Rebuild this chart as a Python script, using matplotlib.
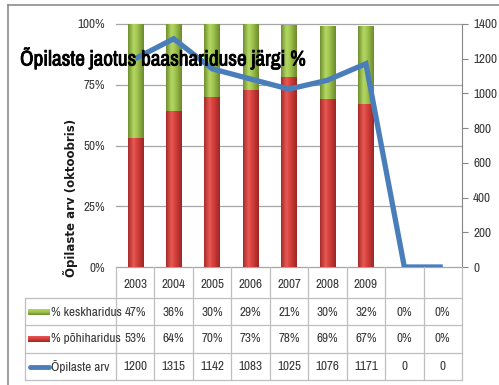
import numpy as np
import matplotlib
import matplotlib.pyplot as plt
import matplotlib.transforms as mtransforms
import matplotlib.patheffects as pe
from matplotlib.colors import LinearSegmentedColormap
from matplotlib.lines import Line2D

# ---- data -------------------------------------------------------------
years = ["2003", "2004", "2005", "2006", "2007", "2008", "2009", "", ""]
kesk = [0.47, 0.36, 0.30, 0.29, 0.21, 0.30, 0.32, 0.0, 0.0]
pohi = [0.53, 0.64, 0.70, 0.73, 0.78, 0.69, 0.67, 0.0, 0.0]
arv = [1200, 1315, 1142, 1083, 1025, 1076, 1171, 0, 0]
pct_ticks = [0, 0.25, 0.5, 0.75, 1.0]
pct_labels = ["0%", "25%", "50%", "75%", "100%"]
count_ticks = [0, 200, 400, 600, 800, 1000, 1200, 1400]
series_names = ["% keskharidus", "% põhiharidus", "Õpilaste arv"]
title = "Õpilaste jaotus baashariduse järgi %"
ylabel = "Õpilaste arv (oktoobris)"

FONT = ["Archivo Narrow", "Carlito", "DejaVu Sans"]
plt.rcParams["font.family"] = FONT

W, H = 499, 385
fig = plt.figure(figsize=(W / 100, H / 100), dpi=100)
fig.patch.set_facecolor("white")


def fx(px):
    return px / W


def fy(py):
    return 1 - py / H


# plot area in pixels
L, R, T, B = 116, 462, 24, 267
ax = fig.add_axes([fx(L), fy(B), (R - L) / W, (B - T) / H])
n = len(years)
xs = np.arange(n)

green = LinearSegmentedColormap.from_list(
    "g", [(0, "#6f8f2e"), (0.35, "#b3d764"), (0.55, "#a5c951"), (1, "#6c8a2c")])
red = LinearSegmentedColormap.from_list(
    "r", [(0, "#a82b28"), (0.35, "#e65a55"), (0.55, "#d9423e"), (1, "#9c2623")])

bw = 0.40
grad = np.linspace(0, 1, 64).reshape(1, -1)


def shaded_bar(xc, y0, h, cmap):
    if h <= 0:
        return
    ax.imshow(grad, cmap=cmap, extent=(xc - bw / 2, xc + bw / 2, y0, y0 + h),
              aspect="auto", interpolation="bilinear", zorder=2)


for i in range(n):
    shaded_bar(xs[i], 0, pohi[i], red)
    shaded_bar(xs[i], pohi[i], kesk[i], green)

TS = 9.5
txt_c = "#383838"

ax.set_xlim(-0.5, n - 0.5)
ax.set_ylim(0, 1)
ax.set_yticks(pct_ticks)
ax.set_yticklabels(pct_labels, fontsize=TS, color=txt_c)
ax.tick_params(axis="y", length=0, pad=8)
ax.set_xticks([])
ax.yaxis.grid(True, color="#a6a6a6", lw=0.9, zorder=0)
for gl in ax.yaxis.get_gridlines():
    gl.set_clip_on(False)
ax.set_axisbelow(True)
for s in ax.spines.values():
    s.set_visible(False)
ax.set_facecolor("none")

# secondary axis with the student count
ax2 = ax.twinx()
ax2.plot(xs, arv, color="#4a7ebb", lw=3.8, solid_joinstyle="miter",
         solid_capstyle="butt", zorder=3)
ax2.set_ylim(0, 1400)
ax2.set_yticks(count_ticks)
ax2.set_yticklabels([str(v) for v in count_ticks], fontsize=TS, color=txt_c)
ax2.tick_params(axis="y", direction="out", length=4, color="#868686", pad=4)
for k, s in ax2.spines.items():
    s.set_visible(k == "right")
ax2.spines["right"].set_color("#868686")
ax2.set_xlim(-0.5, n - 0.5)

# ---- data table under the plot ---------------------------------------
tr = mtransforms.blended_transform_factory(ax.transData, fig.transFigure)
grid_c = "#bfbfbf"
row_lines = [298, 325, 353, 380]
x_left_tab = 25

for b in np.arange(n + 1) - 0.5:
    fig.add_artist(Line2D([b, b], [fy(B), fy(380)], transform=tr, color=grid_c, lw=0.9))
for py in row_lines:
    fig.add_artist(Line2D([fx(x_left_tab), fx(R)], [fy(py), fy(py)],
                          transform=fig.transFigure, color=grid_c, lw=0.9))
fig.add_artist(Line2D([fx(x_left_tab)] * 2, [fy(298), fy(380)],
                      transform=fig.transFigure, color=grid_c, lw=0.9))

row_y = [284, 312, 339, 367]
for i in range(n):
    fig.text(xs[i], fy(row_y[0]), years[i], transform=tr, ha="center", va="center",
             fontsize=TS, color=txt_c)
    fig.text(xs[i], fy(row_y[1]), f"{round(kesk[i] * 100)}%", transform=tr,
             ha="center", va="center", fontsize=TS, color=txt_c)
    fig.text(xs[i], fy(row_y[2]), f"{round(pohi[i] * 100)}%", transform=tr,
             ha="center", va="center", fontsize=TS, color=txt_c)
    fig.text(xs[i], fy(row_y[3]), str(arv[i]), transform=tr,
             ha="center", va="center", fontsize=TS, color=txt_c)

# legend keys inside the table
for py, cmap in ((row_y[1], green), (row_y[2], red)):
    kax = fig.add_axes([fx(28), fy(py + 3), fx(22), 6 / H])
    kax.imshow(np.linspace(0, 1, 32).reshape(-1, 1), cmap=LinearSegmentedColormap.from_list(
        "k", [cmap(0.35), cmap(0.6), cmap(1.0)]), aspect="auto")
    kax.axis("off")
fig.add_artist(Line2D([fx(30), fx(49)], [fy(row_y[3])] * 2, transform=fig.transFigure,
                      color="#4a7ebb", lw=3.5, solid_capstyle="round"))
for py, name in zip(row_y[1:], series_names):
    fig.text(fx(51), fy(py), name, ha="left", va="center", fontsize=TS, color=txt_c)

# ---- titles and frame -------------------------------------------------
fig.text(fx(20), fy(58), title, ha="left", va="center", fontsize=15.3,
         color="black",
         path_effects=[pe.withStroke(linewidth=0.6, foreground="black")])
fig.text(fx(70), fy(198), ylabel, ha="center", va="center", rotation=90,
         fontsize=8.5, fontweight="bold", color="#1a1a1a", family=["DejaVu Sans"])

fig.add_artist(Line2D([fx(8), 1], [fy(5), fy(5)], transform=fig.transFigure,
                      color="#8c8c8c", lw=1.2))
fig.add_artist(Line2D([fx(8), fx(8)], [fy(5), 0], transform=fig.transFigure,
                      color="#8c8c8c", lw=1.2))

fig.savefig("out.png", dpi=100)
